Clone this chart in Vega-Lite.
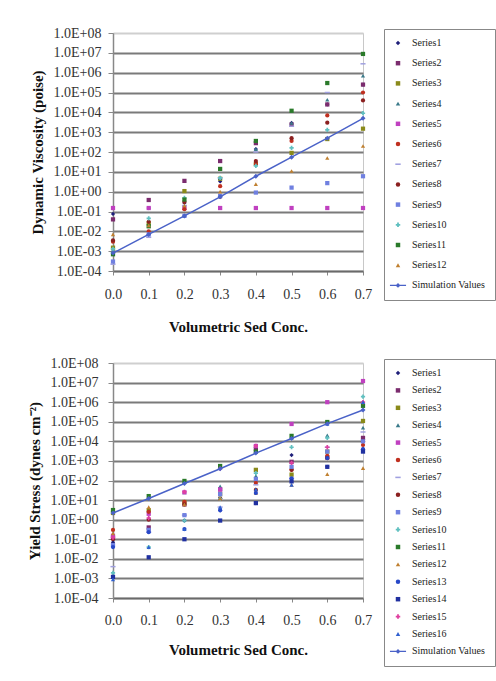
{
  "$schema": "https://vega.github.io/schema/vega-lite/v6.json",
  "background": "white",
  "padding": {"left": 26, "top": 25, "right": 0, "bottom": 0},
  "config": {
    "font": "Liberation Serif",
    "view": {"stroke": "#c8c8c8", "strokeWidth": 1},
    "axis": {"labelFont": "Liberation Serif", "labelFontSize": 14, "labelColor": "#333333", "titleFont": "Liberation Serif", "titleFontSize": 15, "titleFontWeight": "bold", "titleColor": "#111111", "domainColor": "#888888", "tickColor": "#888888", "domainWidth": 1.5, "labelOverlap": false, "labelFlush": false}
  },
  "spacing": 20,
  "resolve": {"scale": {"color": "independent", "shape": "independent", "x": "independent", "y": "independent"}, "legend": {"color": "independent", "shape": "independent"}},
  "datasets": {
    "visc": [
      {"c":0,"series":"Series1","v":0.075},{"c":0.1,"series":"Series1","v":0.15},{"c":0.2,"series":"Series1","v":0.27},{"c":0.3,"series":"Series1","v":3.3},{"c":0.4,"series":"Series1","v":140},{"c":0.5,"series":"Series1","v":2900},{"c":0.6,"series":"Series1","v":25000},{"c":0.7,"series":"Series1","v":250000},
      {"c":0,"series":"Series2","v":0.04},{"c":0.1,"series":"Series2","v":0.38},{"c":0.2,"series":"Series2","v":3.5},{"c":0.3,"series":"Series2","v":35},{"c":0.4,"series":"Series2","v":280},{"c":0.5,"series":"Series2","v":2400},{"c":0.6,"series":"Series2","v":25000},{"c":0.7,"series":"Series2","v":250000},
      {"c":0,"series":"Series3","v":0.0015},{"c":0.1,"series":"Series3","v":0.025},{"c":0.2,"series":"Series3","v":1.07},{"c":0.3,"series":"Series3","v":4.5},{"c":0.4,"series":"Series3","v":25},{"c":0.5,"series":"Series3","v":90},{"c":0.6,"series":"Series3","v":450},{"c":0.7,"series":"Series3","v":1500},
      {"c":0,"series":"Series4","v":0.0012},{"c":0.1,"series":"Series4","v":0.018},{"c":0.2,"series":"Series4","v":0.4},{"c":0.3,"series":"Series4","v":5},{"c":0.4,"series":"Series4","v":140},{"c":0.5,"series":"Series4","v":2900},{"c":0.6,"series":"Series4","v":43000},{"c":0.7,"series":"Series4","v":700000},
      {"c":0,"series":"Series5","v":0.15},{"c":0.1,"series":"Series5","v":0.15},{"c":0.2,"series":"Series5","v":0.15},{"c":0.3,"series":"Series5","v":0.15},{"c":0.4,"series":"Series5","v":0.15},{"c":0.5,"series":"Series5","v":0.15},{"c":0.6,"series":"Series5","v":0.15},{"c":0.7,"series":"Series5","v":0.15},
      {"c":0,"series":"Series6","v":0.003},{"c":0.1,"series":"Series6","v":0.01},{"c":0.2,"series":"Series6","v":0.13},{"c":0.3,"series":"Series6","v":1.9},{"c":0.4,"series":"Series6","v":25},{"c":0.5,"series":"Series6","v":360},{"c":0.6,"series":"Series6","v":7000},{"c":0.7,"series":"Series6","v":100000},
      {"c":0,"series":"Series7","v":0.00022},{"c":0.1,"series":"Series7","v":0.005},{"c":0.2,"series":"Series7","v":0.2},{"c":0.3,"series":"Series7","v":5},{"c":0.4,"series":"Series7","v":100},{"c":0.5,"series":"Series7","v":2000},{"c":0.6,"series":"Series7","v":100000},{"c":0.7,"series":"Series7","v":2800000},
      {"c":0,"series":"Series8","v":0.0035},{"c":0.1,"series":"Series8","v":0.03},{"c":0.2,"series":"Series8","v":0.3},{"c":0.3,"series":"Series8","v":0.55},{"c":0.4,"series":"Series8","v":35},{"c":0.5,"series":"Series8","v":500},{"c":0.6,"series":"Series8","v":3000},{"c":0.7,"series":"Series8","v":40000},
      {"c":0,"series":"Series9","v":0.0003},{"c":0.1,"series":"Series9","v":0.007},{"c":0.2,"series":"Series9","v":0.06},{"c":0.3,"series":"Series9","v":0.6},{"c":0.4,"series":"Series9","v":0.9},{"c":0.5,"series":"Series9","v":1.6},{"c":0.6,"series":"Series9","v":2.7},{"c":0.7,"series":"Series9","v":6},
      {"c":0,"series":"Series10","v":0.0013},{"c":0.1,"series":"Series10","v":0.045},{"c":0.2,"series":"Series10","v":0.48},{"c":0.3,"series":"Series10","v":5},{"c":0.4,"series":"Series10","v":20},{"c":0.5,"series":"Series10","v":160},{"c":0.6,"series":"Series10","v":1300},{"c":0.7,"series":"Series10","v":9000},
      {"c":0,"series":"Series11","v":0.0007},{"c":0.1,"series":"Series11","v":0.018},{"c":0.2,"series":"Series11","v":0.4},{"c":0.3,"series":"Series11","v":14},{"c":0.4,"series":"Series11","v":360},{"c":0.5,"series":"Series11","v":12000},{"c":0.6,"series":"Series11","v":300000},{"c":0.7,"series":"Series11","v":8800000},
      {"c":0,"series":"Series12","v":0.007},{"c":0.1,"series":"Series12","v":0.02},{"c":0.2,"series":"Series12","v":0.2},{"c":0.3,"series":"Series12","v":1},{"c":0.4,"series":"Series12","v":2.4},{"c":0.5,"series":"Series12","v":11},{"c":0.6,"series":"Series12","v":50},{"c":0.7,"series":"Series12","v":200}
    ],
    "viscSim": [
      {"c":0,"series":"Simulation Values","v":0.0008},{"c":0.1,"series":"Simulation Values","v":0.007},{"c":0.2,"series":"Simulation Values","v":0.06},{"c":0.3,"series":"Simulation Values","v":0.55},{"c":0.4,"series":"Simulation Values","v":6},{"c":0.5,"series":"Simulation Values","v":55},{"c":0.6,"series":"Simulation Values","v":500},{"c":0.7,"series":"Simulation Values","v":5000}
    ],
    "yield": [
      {"c":0,"series":"Series1","v":0.07},{"c":0.1,"series":"Series1","v":0.3},{"c":0.2,"series":"Series1","v":0.9},{"c":0.3,"series":"Series1","v":3},{"c":0.4,"series":"Series1","v":7},{"c":0.5,"series":"Series1","v":2000},{"c":0.6,"series":"Series1","v":500},{"c":0.7,"series":"Series1","v":4000},
      {"c":0,"series":"Series2","v":0.12},{"c":0.1,"series":"Series2","v":0.4},{"c":0.2,"series":"Series2","v":6},{"c":0.3,"series":"Series2","v":35},{"c":0.4,"series":"Series2","v":4000},{"c":0.5,"series":"Series2","v":900},{"c":0.6,"series":"Series2","v":1500},{"c":0.7,"series":"Series2","v":15000},
      {"c":0,"series":"Series3","v":2.2},{"c":0.1,"series":"Series3","v":3},{"c":0.2,"series":"Series3","v":8},{"c":0.3,"series":"Series3","v":20},{"c":0.4,"series":"Series3","v":350},{"c":0.5,"series":"Series3","v":200},{"c":0.6,"series":"Series3","v":3000},{"c":0.7,"series":"Series3","v":110000},
      {"c":0,"series":"Series4","v":0.19},{"c":0.1,"series":"Series4","v":1.2},{"c":0.2,"series":"Series4","v":25},{"c":0.3,"series":"Series4","v":50},{"c":0.4,"series":"Series4","v":170},{"c":0.5,"series":"Series4","v":15000},{"c":0.6,"series":"Series4","v":20000},{"c":0.7,"series":"Series4","v":50000},
      {"c":0,"series":"Series5","v":0.15},{"c":0.1,"series":"Series5","v":2},{"c":0.2,"series":"Series5","v":25},{"c":0.3,"series":"Series5","v":35},{"c":0.4,"series":"Series5","v":5800},{"c":0.5,"series":"Series5","v":77000},{"c":0.6,"series":"Series5","v":1000000},{"c":0.7,"series":"Series5","v":12000000},
      {"c":0,"series":"Series6","v":0.3},{"c":0.1,"series":"Series6","v":2.5},{"c":0.2,"series":"Series6","v":8},{"c":0.3,"series":"Series6","v":12},{"c":0.4,"series":"Series6","v":75},{"c":0.5,"series":"Series6","v":350},{"c":0.6,"series":"Series6","v":1800},{"c":0.7,"series":"Series6","v":6500},
      {"c":0,"series":"Series7","v":0.004},{"c":0.1,"series":"Series7","v":0.23},{"c":0.2,"series":"Series7","v":1.7},{"c":0.3,"series":"Series7","v":4.4},{"c":0.4,"series":"Series7","v":60},{"c":0.5,"series":"Series7","v":130},{"c":0.6,"series":"Series7","v":5000},{"c":0.7,"series":"Series7","v":30000},
      {"c":0,"series":"Series8","v":0.1},{"c":0.1,"series":"Series8","v":1},{"c":0.2,"series":"Series8","v":6},{"c":0.3,"series":"Series8","v":12},{"c":0.4,"series":"Series8","v":33},{"c":0.5,"series":"Series8","v":350},{"c":0.6,"series":"Series8","v":1400},{"c":0.7,"series":"Series8","v":10000},
      {"c":0,"series":"Series9","v":0.05},{"c":0.1,"series":"Series9","v":0.3},{"c":0.2,"series":"Series9","v":1.7},{"c":0.3,"series":"Series9","v":20},{"c":0.4,"series":"Series9","v":120},{"c":0.5,"series":"Series9","v":500},{"c":0.6,"series":"Series9","v":3000},{"c":0.7,"series":"Series9","v":10000},
      {"c":0,"series":"Series10","v":0.0019},{"c":0.1,"series":"Series10","v":0.04},{"c":0.2,"series":"Series10","v":0.9},{"c":0.3,"series":"Series10","v":12},{"c":0.4,"series":"Series10","v":240},{"c":0.5,"series":"Series10","v":5000},{"c":0.6,"series":"Series10","v":15000},{"c":0.7,"series":"Series10","v":1900000},
      {"c":0,"series":"Series11","v":3.1},{"c":0.1,"series":"Series11","v":16},{"c":0.2,"series":"Series11","v":95},{"c":0.3,"series":"Series11","v":550},{"c":0.4,"series":"Series11","v":3000},{"c":0.5,"series":"Series11","v":19000},{"c":0.6,"series":"Series11","v":97000},{"c":0.7,"series":"Series11","v":650000},
      {"c":0,"series":"Series12","v":0.2},{"c":0.1,"series":"Series12","v":4.4},{"c":0.2,"series":"Series12","v":6},{"c":0.3,"series":"Series12","v":12},{"c":0.4,"series":"Series12","v":23},{"c":0.5,"series":"Series12","v":60},{"c":0.6,"series":"Series12","v":210},{"c":0.7,"series":"Series12","v":430},
      {"c":0,"series":"Series13","v":0.04},{"c":0.1,"series":"Series13","v":0.23},{"c":0.2,"series":"Series13","v":0.33},{"c":0.3,"series":"Series13","v":3},{"c":0.4,"series":"Series13","v":23},{"c":0.5,"series":"Series13","v":130},{"c":0.6,"series":"Series13","v":1400},{"c":0.7,"series":"Series13","v":4000},
      {"c":0,"series":"Series14","v":0.0012},{"c":0.1,"series":"Series14","v":0.012},{"c":0.2,"series":"Series14","v":0.1},{"c":0.3,"series":"Series14","v":0.9},{"c":0.4,"series":"Series14","v":7},{"c":0.5,"series":"Series14","v":90},{"c":0.6,"series":"Series14","v":500},{"c":0.7,"series":"Series14","v":3000},
      {"c":0,"series":"Series15","v":0.12},{"c":0.1,"series":"Series15","v":1.2},{"c":0.2,"series":"Series15","v":26},{"c":0.3,"series":"Series15","v":400},{"c":0.4,"series":"Series15","v":5800},{"c":0.5,"series":"Series15","v":800},{"c":0.6,"series":"Series15","v":5000},{"c":0.7,"series":"Series15","v":1000000},
      {"c":0,"series":"Series16","v":0.0009},{"c":0.1,"series":"Series16","v":0.04},{"c":0.2,"series":"Series16","v":0.33},{"c":0.3,"series":"Series16","v":4.4},{"c":0.4,"series":"Series16","v":35},{"c":0.5,"series":"Series16","v":60},{"c":0.6,"series":"Series16","v":77000},{"c":0.7,"series":"Series16","v":1000000}
    ],
    "yieldSim": [
      {"c":0,"series":"Simulation Values","v":2.2},{"c":0.1,"series":"Simulation Values","v":12},{"c":0.2,"series":"Simulation Values","v":70},{"c":0.3,"series":"Simulation Values","v":400},{"c":0.4,"series":"Simulation Values","v":2500},{"c":0.5,"series":"Simulation Values","v":14000},{"c":0.6,"series":"Simulation Values","v":80000},{"c":0.7,"series":"Simulation Values","v":400000}
    ]
  },
  "vconcat": [
    {
      "width": 250,
      "height": 238,
      "layer": [
        {
          "data": {"name": "visc"},
          "mark": {"type": "point", "filled": true, "size": 18, "opacity": 1},
          "encoding": {
            "x": {"field": "c", "type": "quantitative", "title": "Volumetric Sed Conc.", "scale": {"domain": [0, 0.7], "nice": false, "zero": false},
              "axis": {"values": [0, 0.1, 0.2, 0.3, 0.4, 0.5, 0.6, 0.7], "tickCount": 20, "format": ".1f", "grid": false, "tickSize": 4, "labelPadding": 12, "titlePadding": 18, "domainColor": "#6a6a6a", "domainWidth": 2, "labelOverlap": false, "labelFlush": false}},
            "y": {"field": "v", "type": "quantitative", "title": "Dynamic Viscosity (poise)", "scale": {"type": "log", "domain": [0.0001, 100000000], "nice": false},
              "axis": {"values": [0.0001, 0.001, 0.01, 0.1, 1, 10, 100, 1000, 10000, 100000, 1000000, 10000000, 100000000], "tickCount": 20,
                "labelExpr": "'1.0E' + (datum.value >= 0.999 ? '+' : '-') + (abs(round(log(datum.value)/LN10)) < 10 ? '0' : '') + abs(round(log(datum.value)/LN10))",
                "labelOverlap": false, "labelFlush": false,
                "grid": true, "gridColor": {"condition": {"test": "datum.value > 50000000 || datum.value < 0.0002", "value": "#cfcfcf"}, "value": "#7a7a7a"}, "gridWidth": 2, "tickSize": 5, "labelPadding": 7, "titlePadding": 8}},
            "color": {"field": "series", "type": "nominal", "title": null,
              "scale": {"domain": ["Series1","Series2","Series3","Series4","Series5","Series6","Series7","Series8","Series9","Series10","Series11","Series12","Simulation Values"],
                "range": ["#1f1f7a","#7b2c6e","#8a8a1a","#3a7a8a","#c040c0","#c03020","#a0a0e0","#8b2020","#7080e0","#60c0c0","#2a7a2a","#c08030","#4a62c8"]},
              "legend": {"orient": "none", "legendX": 271, "legendY": -4, "strokeColor": "#888888", "fillColor": "white", "padding": 9, "symbolSize": 20, "labelFont": "Liberation Serif", "labelFontSize": 10, "labelColor": "#222222", "rowPadding": 10.2, "labelOffset": 9, "symbolStrokeWidth": 0}},
            "shape": {"field": "series", "type": "nominal", "title": null,
              "scale": {"domain": ["Series1","Series2","Series3","Series4","Series5","Series6","Series7","Series8","Series9","Series10","Series11","Series12","Simulation Values"],
                "range": ["diamond","square","square","triangle-up","square","circle","M-1.2,-0.35L1.2,-0.35L1.2,0.35L-1.2,0.35Z","circle","square","cross","square","triangle-up","M-3.6,-0.3L3.6,-0.3L3.6,0.3L-3.6,0.3Z M-1.1,0L0,-1.1L1.1,0L0,1.1Z"]},
              "legend": {"orient": "none", "legendX": 271, "legendY": -4, "strokeColor": "#888888", "fillColor": "white", "padding": 9, "symbolSize": 20, "labelFont": "Liberation Serif", "labelFontSize": 10, "labelColor": "#222222", "rowPadding": 10.2, "labelOffset": 9, "symbolStrokeWidth": 0}}
          }
        },
        {
          "data": {"name": "viscSim"},
          "mark": {"type": "line", "color": "#4a62c8", "strokeWidth": 1.5},
          "encoding": {"x": {"field": "c", "type": "quantitative"}, "y": {"field": "v", "type": "quantitative"}}
        },
        {
          "data": {"name": "viscSim"},
          "mark": {"type": "point", "shape": "diamond", "filled": true, "size": 25, "color": "#4a62c8", "opacity": 1},
          "encoding": {"x": {"field": "c", "type": "quantitative"}, "y": {"field": "v", "type": "quantitative"}}
        }
      ]
    },
    {
      "width": 250,
      "height": 235,
      "layer": [
        {
          "data": {"name": "yield"},
          "mark": {"type": "point", "filled": true, "size": 18, "opacity": 1},
          "encoding": {
            "x": {"field": "c", "type": "quantitative", "title": "Volumetric Sed Conc.", "scale": {"domain": [0, 0.7], "nice": false, "zero": false},
              "axis": {"values": [0, 0.1, 0.2, 0.3, 0.4, 0.5, 0.6, 0.7], "tickCount": 20, "format": ".1f", "grid": false, "tickSize": 4, "labelPadding": 11, "titlePadding": 15, "domainColor": "#6a6a6a", "domainWidth": 2, "labelOverlap": false, "labelFlush": false}},
            "y": {"field": "v", "type": "quantitative", "title": "Yield Stress (dynes cm⁻²)", "scale": {"type": "log", "domain": [0.0001, 100000000], "nice": false},
              "axis": {"values": [0.0001, 0.001, 0.01, 0.1, 1, 10, 100, 1000, 10000, 100000, 1000000, 10000000, 100000000], "tickCount": 20,
                "labelExpr": "'1.0E' + (datum.value >= 0.999 ? '+' : '-') + (abs(round(log(datum.value)/LN10)) < 10 ? '0' : '') + abs(round(log(datum.value)/LN10))",
                "labelOverlap": false, "labelFlush": false,
                "grid": true, "gridColor": {"condition": {"test": "datum.value > 50000000 || datum.value < 0.0002", "value": "#cfcfcf"}, "value": "#7a7a7a"}, "gridWidth": 2, "tickSize": 5, "labelPadding": 10, "titlePadding": 8}},
            "color": {"field": "series", "type": "nominal", "title": null,
              "scale": {"domain": ["Series1","Series2","Series3","Series4","Series5","Series6","Series7","Series8","Series9","Series10","Series11","Series12","Series13","Series14","Series15","Series16","Simulation Values"],
                "range": ["#1f1f7a","#7b2c6e","#8a8a1a","#3a7a8a","#c040c0","#c03020","#a0a0e0","#8b2020","#7080e0","#60c0c0","#2a7a2a","#c08030","#2848c8","#2030a0","#e040a0","#3060d0","#4a62c8"]},
              "legend": {"orient": "none", "legendX": 271, "legendY": -4, "strokeColor": "#888888", "fillColor": "white", "padding": 9, "symbolSize": 20, "labelFont": "Liberation Serif", "labelFontSize": 10, "labelColor": "#222222", "rowPadding": 7.4, "labelOffset": 9, "symbolStrokeWidth": 0}},
            "shape": {"field": "series", "type": "nominal", "title": null,
              "scale": {"domain": ["Series1","Series2","Series3","Series4","Series5","Series6","Series7","Series8","Series9","Series10","Series11","Series12","Series13","Series14","Series15","Series16","Simulation Values"],
                "range": ["diamond","square","square","triangle-up","square","circle","M-1.2,-0.35L1.2,-0.35L1.2,0.35L-1.2,0.35Z","circle","square","cross","square","triangle-up","circle","square","cross","triangle-up","M-3.6,-0.3L3.6,-0.3L3.6,0.3L-3.6,0.3Z M-1.1,0L0,-1.1L1.1,0L0,1.1Z"]},
              "legend": {"orient": "none", "legendX": 271, "legendY": -4, "strokeColor": "#888888", "fillColor": "white", "padding": 9, "symbolSize": 20, "labelFont": "Liberation Serif", "labelFontSize": 10, "labelColor": "#222222", "rowPadding": 7.4, "labelOffset": 9, "symbolStrokeWidth": 0}}
          }
        },
        {
          "data": {"name": "yieldSim"},
          "mark": {"type": "line", "color": "#4a62c8", "strokeWidth": 1.5},
          "encoding": {"x": {"field": "c", "type": "quantitative"}, "y": {"field": "v", "type": "quantitative"}}
        },
        {
          "data": {"name": "yieldSim"},
          "mark": {"type": "point", "shape": "diamond", "filled": true, "size": 25, "color": "#4a62c8", "opacity": 1},
          "encoding": {"x": {"field": "c", "type": "quantitative"}, "y": {"field": "v", "type": "quantitative"}}
        }
      ]
    }
  ]
}
